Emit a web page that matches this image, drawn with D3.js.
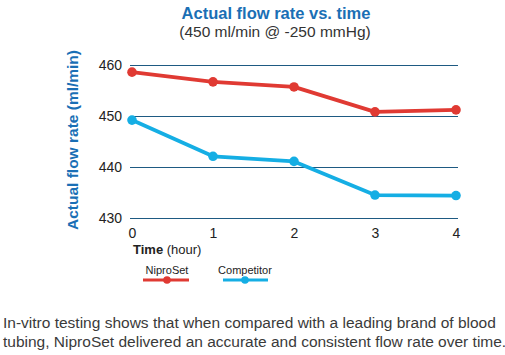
<!DOCTYPE html>
<html><head><meta charset="utf-8">
<script src="https://cdn.jsdelivr.net/npm/d3@7"></script>
<style>body{margin:0;background:#fff}svg{display:block}</style>
</head><body>
<svg id="c" width="505" height="355"></svg>
<script>
const hours = [0, 1, 2, 3, 4];
const niproSet = [458.6, 456.7, 455.7, 450.8, 451.2];
const competitor = [449.2, 442.1, 441.1, 434.5, 434.4];
const yTicks = [430, 440, 450, 460];
const seriesNames = ["NiproSet", "Competitor"];
const colors = ["#e03a33", "#15aee4"];

const svg = d3.select("#c");
const font = "'Liberation Sans', Arial, sans-serif";
const x = d3.scaleLinear().domain([0, 4]).range([132, 456]);
const y = d3.scaleLinear().domain([430, 460]).range([218, 65]);

// title
svg.append("text").attr("x", 276).attr("y", 19).attr("text-anchor", "middle")
  .attr("font-family", font).attr("font-weight", "bold").attr("font-size", 16.5)
  .attr("fill", "#1a6fb5").text("Actual flow rate vs. time");
svg.append("text").attr("x", 275).attr("y", 37).attr("text-anchor", "middle")
  .attr("font-family", font).attr("font-size", 15.5)
  .attr("fill", "#333").text("(450 ml/min @ -250 mmHg)");

// grid
const yAxis = d3.axisLeft(y).tickValues(yTicks).tickSize(-(458 - 130)).tickPadding(8).tickFormat(d3.format("d"));
const gy = svg.append("g").attr("transform", "translate(130,0)").call(yAxis);
gy.select(".domain").remove();
gy.selectAll(".tick line").attr("stroke", "#1e5a82").attr("stroke-width", 1);
gy.selectAll(".tick text").attr("font-family", font).attr("font-size", 14).attr("fill", "#222").attr("x", -8);

const xAxis = d3.axisBottom(x).tickValues(hours).tickSize(0).tickPadding(0).tickFormat(d3.format("d"));
const gx = svg.append("g").attr("transform", "translate(0,228)").call(xAxis);
gx.select(".domain").remove();
gx.selectAll(".tick text").attr("font-family", font).attr("font-size", 14).attr("fill", "#222").attr("dy", "0.71em");

// axis titles
svg.append("text").attr("transform", "translate(78,140) rotate(-90)").attr("text-anchor", "middle")
  .attr("font-family", font).attr("font-weight", "bold").attr("font-size", 15.5)
  .attr("fill", "#1a6fb5").text("Actual flow rate (ml/min)");
const xt = svg.append("text").attr("x", 133).attr("y", 254)
  .attr("font-family", font).attr("font-size", 13).attr("fill", "#222");
xt.append("tspan").attr("font-weight", "bold").text("Time");
xt.append("tspan").text(" (hour)");

// lines
const data = [niproSet, competitor];
const line = d3.line().x((d, i) => x(hours[i])).y(d => y(d));
data.forEach((s, k) => {
  svg.append("path").datum(s).attr("d", line).attr("fill", "none")
    .attr("stroke", colors[k]).attr("stroke-width", 3.8).attr("stroke-linejoin", "round");
  svg.selectAll(null).data(s).enter().append("circle")
    .attr("cx", (d, i) => x(hours[i])).attr("cy", d => y(d)).attr("r", 4.8).attr("fill", colors[k]);
});

// legend
const lg = [{cx: 167, x1: 143, x2: 189}, {cx: 245, x1: 223, x2: 268}];
seriesNames.forEach((n, k) => {
  svg.append("text").attr("x", lg[k].cx).attr("y", 274).attr("text-anchor", "middle")
    .attr("font-family", font).attr("font-size", 11).attr("fill", "#222").text(n);
  svg.append("line").attr("x1", lg[k].x1).attr("x2", lg[k].x2).attr("y1", 280).attr("y2", 280)
    .attr("stroke", colors[k]).attr("stroke-width", 3);
  svg.append("circle").attr("cx", lg[k].cx).attr("cy", 280).attr("r", 3.8).attr("fill", colors[k]);
});

// footer
const foot = ["In-vitro testing shows that when compared with a leading brand of blood",
  "tubing, NiproSet delivered an accurate and consistent flow rate over time."];
foot.forEach((t, i) => {
  svg.append("text").attr("x", 3).attr("y", 328 + i * 19)
    .attr("font-family", font).attr("font-size", 15.5).attr("fill", "#3a3a3a").text(t);
});
</script>
</body></html>
